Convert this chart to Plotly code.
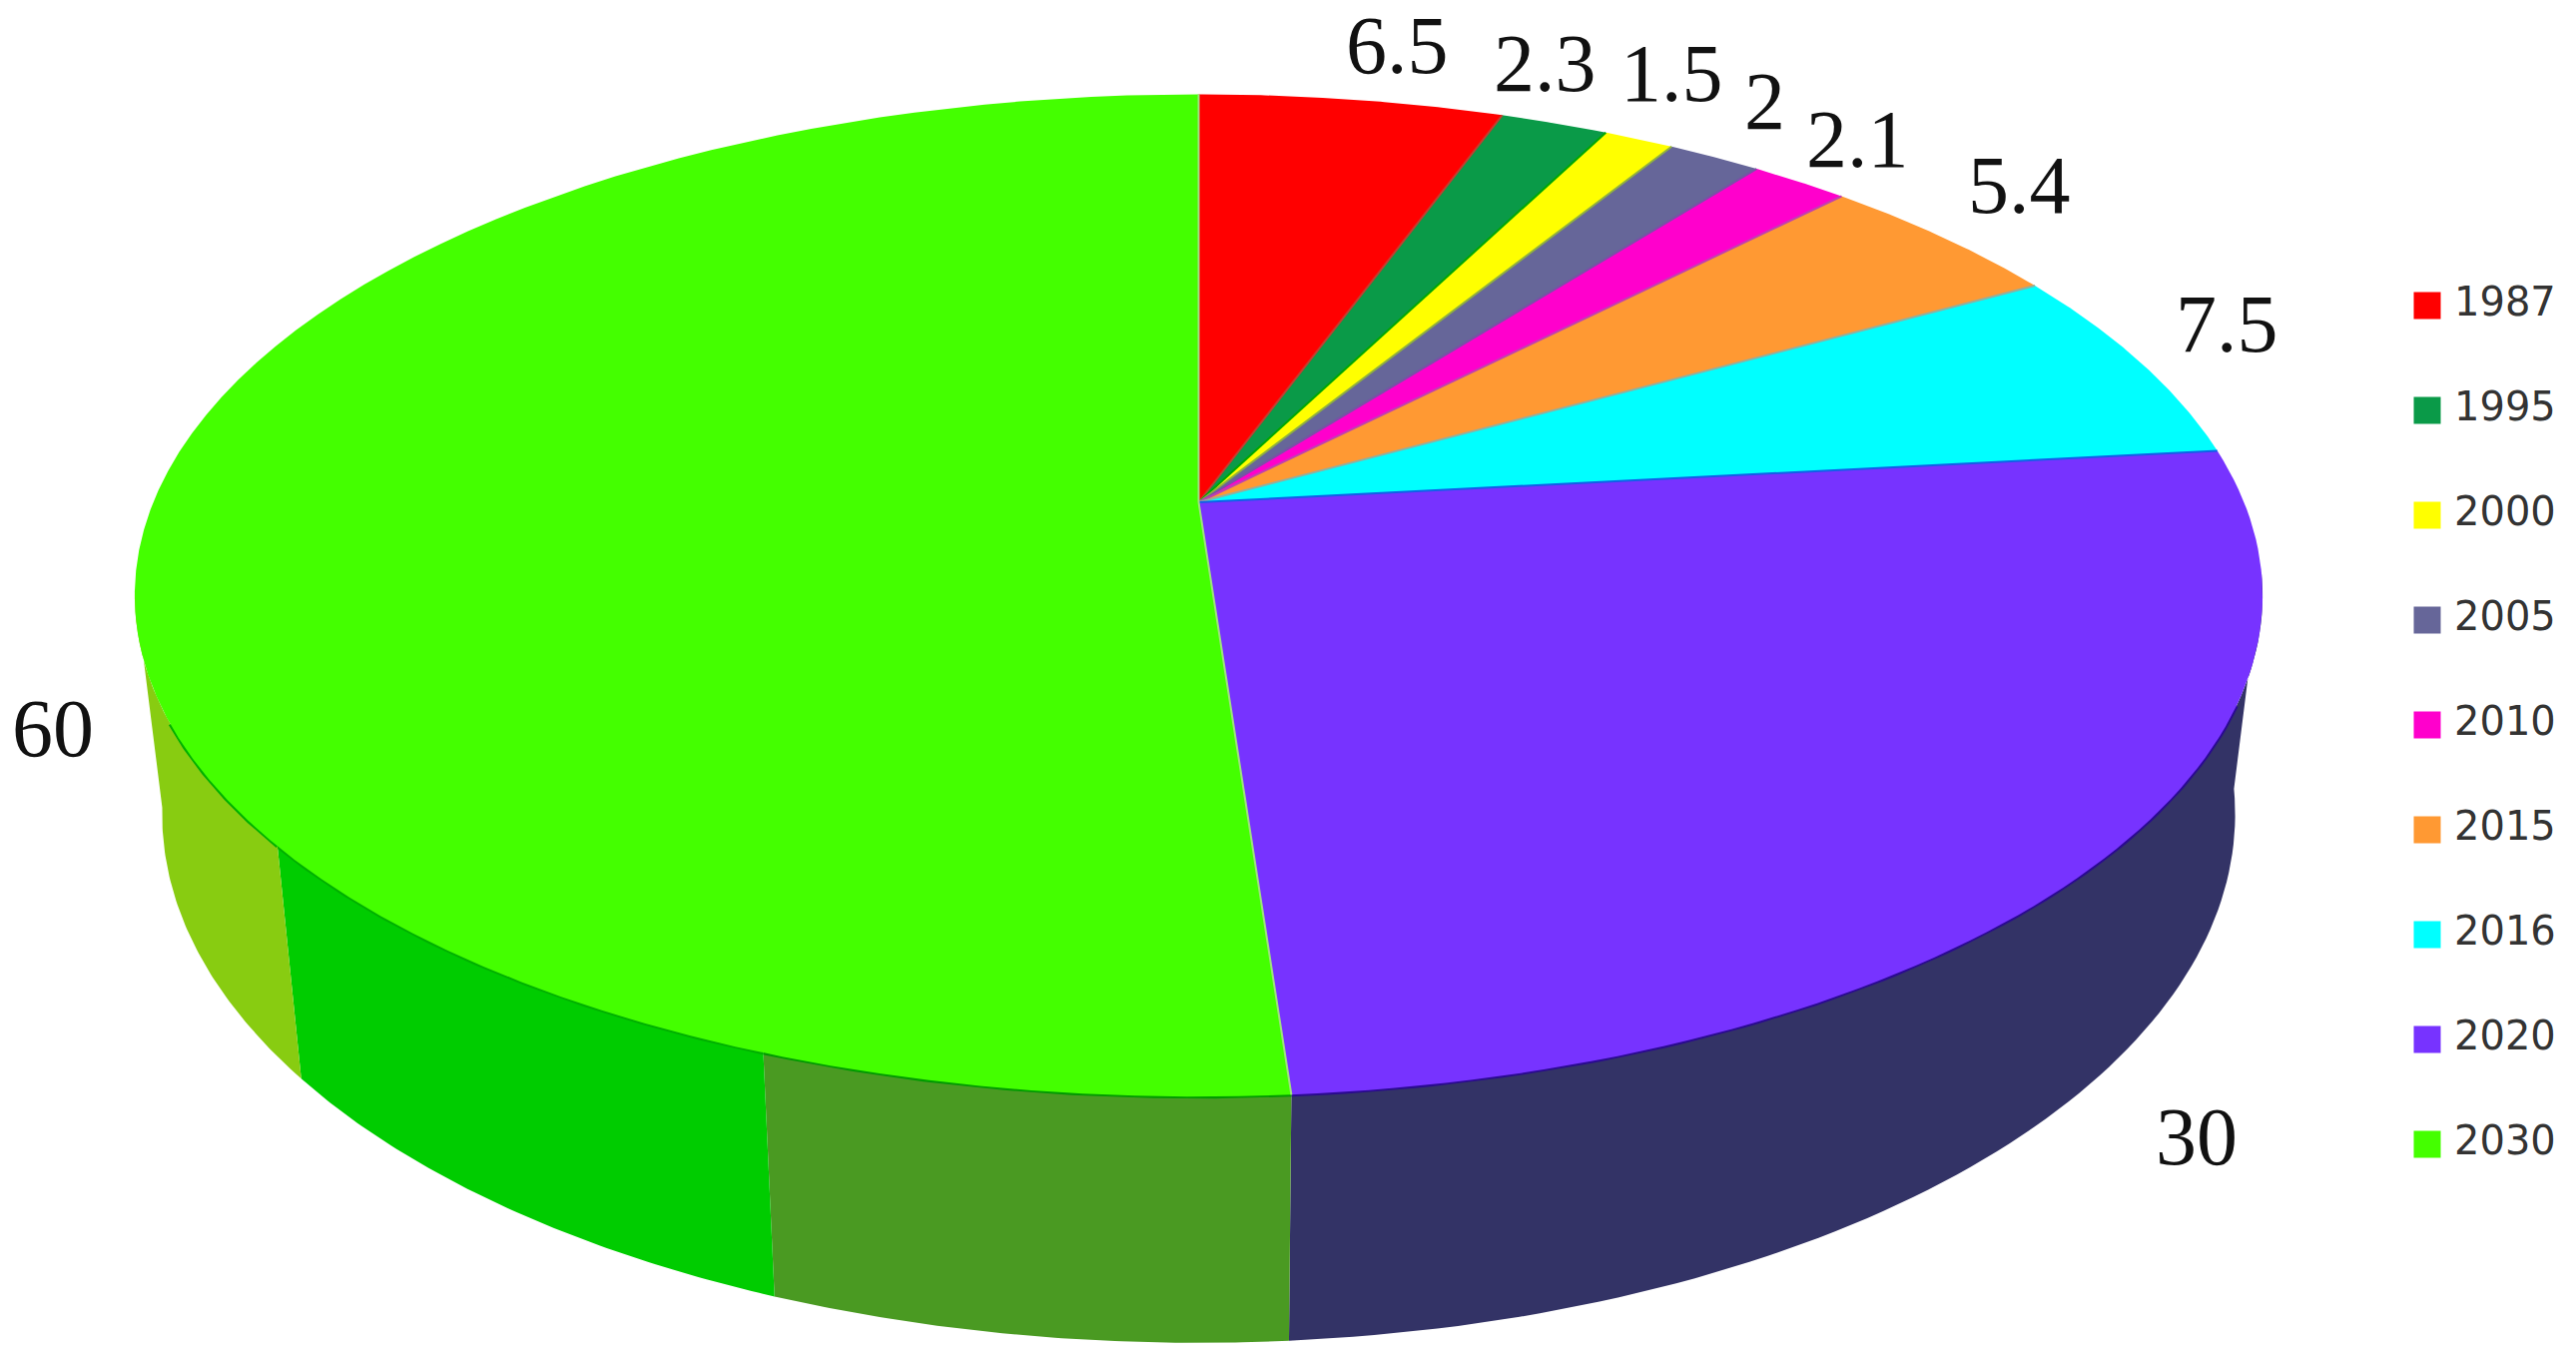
import numpy as np
import plotly.graph_objects as go

# chart data
years = ['1987', '1995', '2000', '2005', '2010', '2015', '2016', '2020', '2030']
values = [6.5, 2.3, 1.5, 2, 2.1, 5.4, 7.5, 30, 60]
colors = ['#ff0000', '#0a9a48', '#ffff00', '#666699', '#ff00cc', '#ff9933', '#00ffff', '#7733ff', '#44ff00']
divider_colors = ['#c04030', '#00a800', '#90b040', '#7a4fa8', '#c040b0', '#90b0a0', '#1060e8', '#a0e080', '#a0e080']

# side wall of the 3D pie, in the same units as values (cumulative from 12 o'clock)
wall_stops = [57.3, 65.2, 75.3]
wall_colors = ['#333366', '#4a9a22', '#00cc00', '#88cc11']
rim_colors = ['#2a0a90', '#009a00', '#00b000', '#00b000']

# label offsets from the rim, pixels
label_dx = [46, -9, 33, 50, 58, 76, 86, 87, -94]
label_dy = [-54, -60, -66, -56, -43, -52, -39, 283, 209]

# projection of the pie onto the page
CX = 1200.5
TOP_Y, TOP_A, TOP_B = 503, 484.5, 1047
BOT_Y, BOT_A, BOT_B = 717, 511, 1020
K = 0.186  # perspective, far side of the disc is squeezed

TOTAL = sum(values)
WALL_START = 98 / 360 * TOTAL   # where the wall leaves the silhouette
WALL_END = 260 / 360 * TOTAL
RIM_START = 113 / 360 * TOTAL   # the dark rim line stays clear of the silhouette
RIM_END = 245 / 360 * TOTAL

LEGEND_X = 2431
LEGEND_TEXT_X = 2458
LEGEND_TOP = 306
LEGEND_STEP = 105


def project(v, y0, a, b):
    # v is a cumulative value, returns page coordinates on the disc rim
    t = np.radians(np.asarray(v, dtype=float) / TOTAL * 360)
    d = 1 + K * np.cos(t)
    return CX + b * np.sin(t) / d, y0 - a * np.cos(t) / d


def rim(v0, v1, y0, a, b):
    return project(np.linspace(v0, v1, 80), y0, a, b)


fig = go.Figure()

# side wall first, the top face is painted over it
edges = [WALL_START] + wall_stops + [WALL_END]
for i, color in enumerate(wall_colors):
    tx, ty = rim(edges[i], edges[i + 1], TOP_Y, TOP_A, TOP_B)
    bx, by = rim(edges[i], edges[i + 1], BOT_Y, BOT_A, BOT_B)
    fig.add_trace(go.Scatter(
        x=np.concatenate([tx, bx[::-1]]),
        y=np.concatenate([ty, by[::-1]]),
        mode='lines',
        fill='toself',
        fillcolor=color,
        line=dict(width=0),
        hoverinfo='skip',
    ))
    # darker line where the wall meets the top face
    lx, ly = rim(max(edges[i], RIM_START), min(edges[i + 1], RIM_END), TOP_Y, TOP_A, TOP_B)
    fig.add_trace(go.Scatter(
        x=lx, y=ly, mode='lines',
        line=dict(color=rim_colors[i], width=4),
        hoverinfo='skip',
    ))

# top face
cum = np.concatenate([[0], np.cumsum(values)])
for i, year in enumerate(years):
    rx, ry = rim(cum[i], cum[i + 1], TOP_Y, TOP_A, TOP_B)
    fig.add_trace(go.Scatter(
        x=np.concatenate([[CX], rx, [CX]]),
        y=np.concatenate([[TOP_Y], ry, [TOP_Y]]),
        mode='lines',
        fill='toself',
        fillcolor=colors[i],
        line=dict(width=0),
        name=year,
    ))

# thin lines between the slices
for i in range(len(years)):
    ex, ey = project(cum[i + 1], TOP_Y, TOP_A, TOP_B)
    fig.add_trace(go.Scatter(
        x=[CX, ex], y=[TOP_Y, ey], mode='lines',
        line=dict(color=divider_colors[i], width=2),
        hoverinfo='skip',
    ))

# value labels
mids = (cum[:-1] + cum[1:]) / 2
mx, my = project(mids, TOP_Y, TOP_A, TOP_B)
annotations = []
for i, val in enumerate(values):
    annotations.append(dict(
        x=mx[i], y=my[i], text=f'{val:g}', showarrow=False,
        xshift=label_dx[i], yshift=-label_dy[i],
        xanchor='center', yanchor='middle',
        font=dict(family='Liberation Serif', size=82, color='#111111'),
    ))

# key on the right, plotly caps legend swatches far below this size
key_y = [LEGEND_TOP + LEGEND_STEP * i for i in range(len(years))]
fig.add_trace(go.Scatter(
    x=[LEGEND_X] * len(years),
    y=key_y,
    mode='markers',
    marker=dict(symbol='square', size=27, color=colors, line=dict(width=0)),
    hoverinfo='skip',
))
fig.add_trace(go.Scatter(
    x=[LEGEND_TEXT_X] * len(years),
    y=key_y,
    mode='text',
    text=years,
    textposition='middle right',
    textfont=dict(family='DejaVu Sans', size=40, color='#333333'),
    hoverinfo='skip',
))

fig.update_layout(
    width=2580,
    height=1360,
    margin=dict(l=0, r=0, t=0, b=0),
    paper_bgcolor='white',
    plot_bgcolor='white',
    showlegend=False,
    annotations=annotations,
    xaxis=dict(range=[0, 2580], visible=False),
    yaxis=dict(range=[1360, 0], visible=False),
)

fig.write_html("out.html", config=dict(displayModeBar=False),
               post_script="document.body.style.margin = '0';")
